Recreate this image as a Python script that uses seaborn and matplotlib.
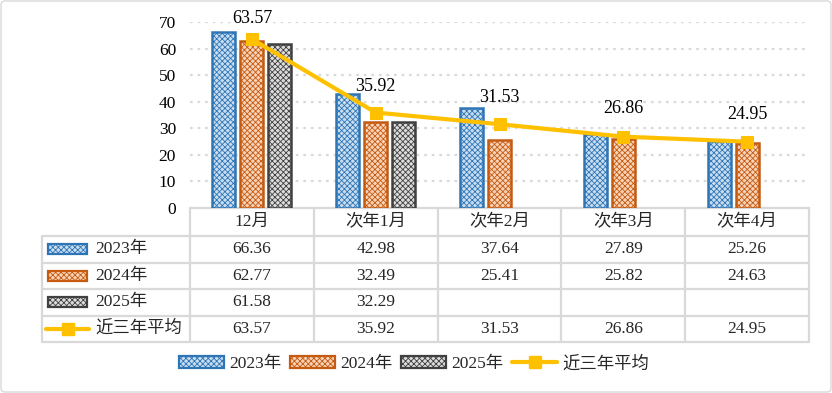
import numpy as np
import pandas as pd
import matplotlib
matplotlib.use("Agg")
import matplotlib.pyplot as plt
import seaborn as sns
from matplotlib.patches import Patch, Rectangle, FancyBboxPatch
from matplotlib.lines import Line2D

# ---------------- data ----------------
months = ["12月", "次年1月", "次年2月", "次年3月", "次年4月"]
series_names = ["2023年", "2024年", "2025年"]
v2023 = [66.36, 42.98, 37.64, 27.89, 25.26]
v2024 = [62.77, 32.49, 25.41, 25.82, 24.63]
v2025 = [61.58, 32.29, np.nan, np.nan, np.nan]
avg_name = "近三年平均"
avg3 = [63.57, 35.92, 31.53, 26.86, 24.95]
yticks = [0, 10, 20, 30, 40, 50, 60, 70]

# ---------------- style ----------------
edges = ["#2E75B6", "#C55A11", "#404040"]
faces = ["#C9DDF0", "#F8D3B8", "#DDDDDD"]
HATCH = "xxxxxx"
line_color = "#FFC000"
grid_color = "#D9D9D9"
label_dy_px = [21, 26, 27, 28, 27]

sns.set_theme(style="white")
FONT = ["Liberation Serif", "Noto Sans CJK SC"]
plt.rcParams["font.family"] = FONT
plt.rcParams["hatch.linewidth"] = 0.6

W, H = 832, 393
fig = plt.figure(figsize=(W / 100, H / 100), dpi=100)


def box(x0, y0, x1, y1):
    return [x0 / W, 1 - y1 / H, (x1 - x0) / W, (y1 - y0) / H]


ov = fig.add_axes([0, 0, 1, 1])
ov.set_xlim(0, W)
ov.set_ylim(H, 0)
ov.axis("off")

ax = fig.add_axes(box(190, 22, 809, 208))

df = pd.DataFrame({
    "月份": months * 3,
    "系列": np.repeat(series_names, len(months)),
    "值": v2023 + v2024 + v2025,
})
sns.barplot(data=df, x="月份", y="值", hue="系列", order=months,
            hue_order=series_names, palette=dict(zip(series_names, faces)),
            width=0.68, gap=0.18, saturation=1, legend=False, ax=ax, zorder=3)
for cont, ec in zip(ax.containers, edges):
    for bar in cont:
        bar.set_edgecolor(ec)
        bar.set_linewidth(1.8)
        bar.set_hatch(HATCH)

sns.lineplot(x=np.arange(len(months)), y=avg3, ax=ax, color=line_color, lw=3,
             marker="s", markersize=8, markeredgecolor=line_color, zorder=5)

for i, v in enumerate(avg3):
    ax.annotate(f"{v:.2f}", (i, v), xytext=(0, label_dy_px[i] * 0.72),
                textcoords="offset points", ha="center", va="center",
                fontsize=13, color="black")

ax.set_xlim(-0.5, len(months) - 0.5)
ax.set_ylim(0, 70)
ax.set_yticks(yticks)
ax.set_yticklabels([str(t) for t in yticks])
ax.yaxis.grid(True, color=grid_color, linestyle=(0, (1.2, 2.2)), lw=1.6)
ax.set_axisbelow(True)
ax.tick_params(axis="y", length=0, pad=10, labelsize=12.5, labelcolor="black")
ax.tick_params(axis="x", length=0, labelbottom=False)
ax.set_xlabel("")
ax.set_ylabel("")
for s in ["top", "right", "left"]:
    ax.spines[s].set_visible(False)
ax.spines["bottom"].set_color(grid_color)
ax.spines["bottom"].set_linewidth(1.6)
ax.patch.set_alpha(0)

# ---------------- data table ----------------
lc = grid_color
lw = 1.6
col_edges = [190 + (809 - 190) / 5 * i for i in range(6)]
row_edges = [236, 262.5, 289, 315.5, 342]
for x in col_edges:
    ov.plot([x, x], [208, 342], color=lc, lw=lw)
ov.plot([42, 42], [236, 342], color=lc, lw=lw)
for y in row_edges:
    ov.plot([42, 809], [y, y], color=lc, lw=lw)

for i, m in enumerate(months):
    xc = (col_edges[i] + col_edges[i + 1]) / 2
    ov.text(xc, 222, m, ha="center", va="center", fontsize=12.5)

rows = [v2023, v2024, v2025, avg3]
row_names = series_names + [avg_name]
for r, (vals, name) in enumerate(zip(rows, row_names)):
    yc = (row_edges[r] + row_edges[r + 1]) / 2
    for i, v in enumerate(vals):
        xc = (col_edges[i] + col_edges[i + 1]) / 2
        if not np.isnan(v):
            ov.text(xc, yc, f"{v:.2f}", ha="center", va="center", fontsize=12.5)
    if r < 3:
        ov.add_patch(Rectangle((48, yc - 5), 39, 10, facecolor=faces[r],
                               edgecolor=edges[r], lw=1.6, hatch=HATCH))
    else:
        ov.plot([46, 89], [yc, yc], color=line_color, lw=3)
        ov.plot([67.5], [yc], marker="s", markersize=8, color=line_color)
    ov.text(95, yc, name, ha="left", va="center", fontsize=12.5)

# ---------------- legend ----------------
handles = [Patch(facecolor=faces[k], edgecolor=edges[k], lw=1.6, hatch=HATCH)
           for k in range(3)]
handles.append(Line2D([], [], color=line_color, lw=3, marker="s", markersize=8))
fig.legend(handles, series_names + [avg_name], loc="center",
           bbox_to_anchor=(414 / W, 1 - 364 / H), ncol=4, frameon=False,
           fontsize=12.5, handlelength=2.6, handleheight=0.7,
           columnspacing=0.5, handletextpad=0.3)

ov.add_patch(FancyBboxPatch((1, 1), W - 2, H - 2,
                            boxstyle="round,pad=0,rounding_size=4",
                            facecolor="none", edgecolor=grid_color, lw=1))

fig.savefig("out.png", dpi=100)
